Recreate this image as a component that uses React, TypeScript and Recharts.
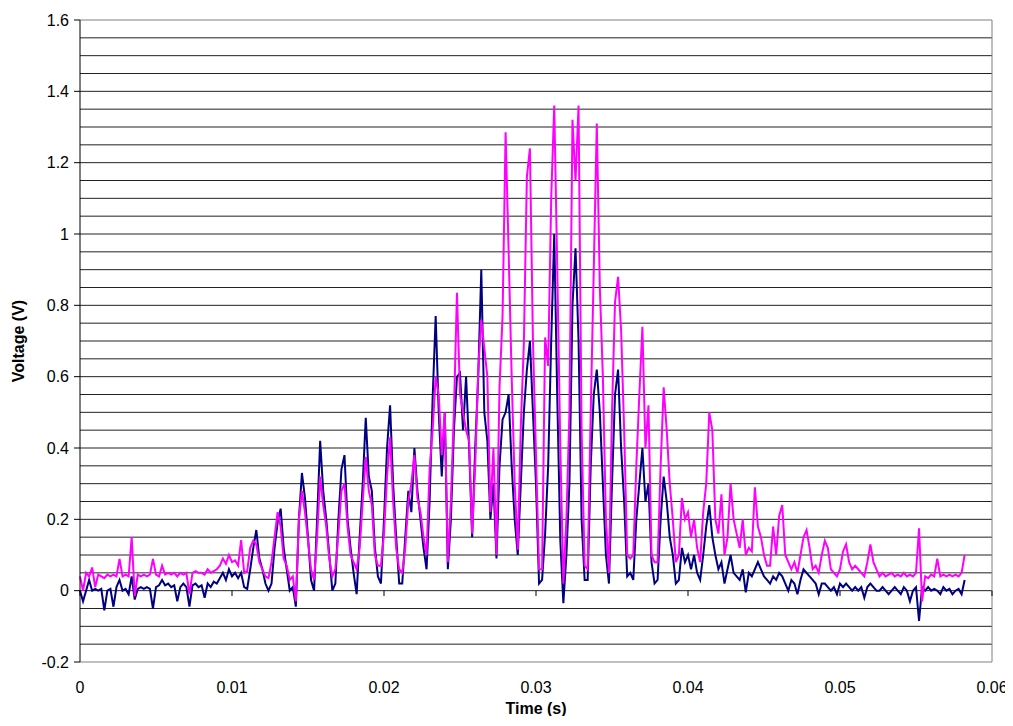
import React from "react";
import {
  LineChart,
  Line,
  XAxis,
  YAxis,
  ReferenceLine,
} from "recharts";

// one reading every 0.2 ms
const SAMPLE_STEP = 0.0002;

// navy trace (V)
const navy = [
  0.0, -0.03, 0.0, 0.03, 0.0, 0.005, 0.0, 0.005, -0.055, 0.0,
  0.005, -0.045, 0.01, 0.03, 0.0, 0.005, -0.01, 0.04, -0.025, 0.005,
  0.01, 0.005, 0.01, 0.005, -0.05, 0.01, 0.015, 0.03, 0.015, 0.02,
  0.01, 0.015, -0.03, 0.01, 0.02, 0.01, -0.045, 0.015, 0.02, 0.01,
  0.015, -0.02, 0.02, 0.01, 0.025, 0.02, 0.035, 0.05, 0.03, 0.06,
  0.04, 0.05, 0.035, 0.05, 0.01, 0.005, 0.06, 0.12, 0.17, 0.09,
  0.06, 0.02, 0.0, 0.02, 0.12, 0.19, 0.23, 0.12, 0.06, 0.0,
  0.01, -0.045, 0.2, 0.33, 0.26, 0.15, 0.03, 0.0, 0.2, 0.42,
  0.28, 0.2, 0.1, 0.0, 0.02, 0.2, 0.34, 0.38, 0.2, 0.12,
  0.05, -0.01, 0.15, 0.3, 0.485, 0.32, 0.28, 0.12, 0.04, 0.02,
  0.2, 0.4, 0.52, 0.3, 0.15, 0.02, 0.02, 0.15, 0.28, 0.22,
  0.4, 0.28, 0.2, 0.12, 0.06, 0.25, 0.54, 0.77, 0.5, 0.32,
  0.5, 0.06, 0.2, 0.45, 0.6, 0.61, 0.45, 0.6, 0.4, 0.15,
  0.4, 0.6, 0.9, 0.5, 0.42, 0.2, 0.3, 0.09, 0.35, 0.48,
  0.5, 0.55, 0.35, 0.2, 0.1, 0.3, 0.5, 0.62, 0.7, 0.5,
  0.3, 0.02, 0.03, 0.16, 0.35, 0.7, 1.0, 0.54, 0.14, -0.035,
  0.1, 0.3, 0.8, 0.96, 0.7, 0.2, 0.03, 0.03, 0.35, 0.55,
  0.62, 0.5, 0.3, 0.1, 0.02, 0.3, 0.55, 0.62, 0.4, 0.25,
  0.04, 0.05, 0.03, 0.2, 0.3, 0.4, 0.25, 0.3, 0.08, 0.02,
  0.03, 0.2, 0.32, 0.25, 0.15, 0.1, 0.02, 0.03, 0.12, 0.08,
  0.1, 0.06, 0.1, 0.05, 0.03, 0.1, 0.18, 0.24, 0.15, 0.1,
  0.06, 0.08, 0.02, 0.06, 0.1, 0.05, 0.04, 0.03, 0.06, -0.005,
  0.05, 0.04, 0.06, 0.08, 0.06, 0.04, 0.03, 0.02, 0.04, 0.03,
  0.05, 0.04, 0.02, 0.0, 0.03, 0.02, -0.01, 0.03, 0.06, 0.05,
  0.04, 0.03, 0.02, -0.01, 0.02, 0.02, 0.01, 0.0, 0.01, -0.01,
  0.02, 0.01, 0.02, 0.01, 0.0, 0.01, 0.0, 0.01, -0.02, 0.01,
  0.02, 0.01, 0.0, 0.0, 0.01, 0.0, -0.01, 0.0, 0.01, 0.0,
  -0.01, 0.01, 0.0, -0.03, 0.0, 0.01, -0.085, 0.01, 0.0, 0.01,
  0.0, 0.005, 0.0, -0.01, 0.01, 0.0, 0.005, -0.01, 0.0, 0.005,
  -0.01, 0.03,
];

// magenta trace (V)
const magenta = [
  0.04, 0.0, 0.05, 0.04, 0.065, 0.01, 0.045, 0.04, 0.035, 0.045,
  0.04, 0.045, 0.04, 0.089, 0.04, 0.045, 0.04, 0.15, -0.015, 0.045,
  0.04, 0.045, 0.04, 0.045, 0.089, 0.045, 0.04, 0.07, 0.045, 0.05,
  0.045, 0.05, 0.04, 0.05, 0.045, 0.05, -0.01, 0.05, 0.055, 0.05,
  0.05, 0.045, 0.06, 0.05, 0.055, 0.06, 0.07, 0.09, 0.075, 0.1,
  0.08, 0.085, 0.07, 0.142, 0.05, 0.055, 0.12, 0.14, 0.13, 0.08,
  0.06, 0.04, 0.035, 0.08, 0.15, 0.22, 0.18, 0.09, 0.07, 0.03,
  0.04, -0.03, 0.2, 0.28, 0.22, 0.14, 0.06, 0.03, 0.15, 0.32,
  0.24, 0.18, 0.09, 0.04, 0.06, 0.16, 0.28, 0.3, 0.18, 0.1,
  0.08, 0.06, 0.12, 0.25, 0.375, 0.28, 0.24, 0.1, 0.07, 0.07,
  0.16, 0.32, 0.43, 0.25, 0.12, 0.06, 0.05, 0.12, 0.25, 0.3,
  0.38, 0.26, 0.22, 0.15, 0.1, 0.34, 0.45, 0.6, 0.55, 0.38,
  0.5, 0.08, 0.25, 0.5, 0.835, 0.55, 0.5, 0.45, 0.42, 0.16,
  0.35, 0.62, 0.76, 0.68, 0.6, 0.22, 0.4, 0.1, 0.57, 0.77,
  1.285, 0.95, 0.6, 0.3, 0.115, 0.46, 0.69, 1.16, 1.24, 0.7,
  0.38, 0.06, 0.06, 0.71, 0.63, 1.1, 1.36, 0.9, 0.4, 0.02,
  0.2, 0.5, 1.32, 1.15, 1.36, 0.45, 0.07, 0.06, 0.5, 0.9,
  1.31, 0.85, 0.6, 0.2, 0.05, 0.5, 0.81, 0.88, 0.73, 0.45,
  0.1, 0.09, 0.1, 0.35, 0.55, 0.74, 0.4, 0.52, 0.1, 0.08,
  0.08, 0.35, 0.57, 0.45, 0.3, 0.2, 0.08, 0.1, 0.26, 0.2,
  0.22, 0.15, 0.2, 0.12, 0.08, 0.22, 0.3, 0.5, 0.45, 0.2,
  0.16, 0.27, 0.1, 0.15, 0.3, 0.2, 0.16, 0.12, 0.2, 0.1,
  0.12, 0.11, 0.29, 0.18, 0.15, 0.1, 0.07, 0.07, 0.18, 0.1,
  0.21, 0.24, 0.1, 0.08, 0.06, 0.08, 0.05, 0.1, 0.15, 0.17,
  0.12, 0.06, 0.07, 0.05, 0.1, 0.14, 0.12, 0.06, 0.05, 0.04,
  0.06, 0.11, 0.13, 0.08, 0.06, 0.07, 0.06, 0.05, 0.04, 0.08,
  0.13, 0.08, 0.06, 0.04, 0.05, 0.04, 0.045, 0.05, 0.04, 0.045,
  0.04, 0.05, 0.04, 0.045, 0.04, 0.05, 0.175, -0.03, 0.04, 0.035,
  0.045, 0.04, 0.09, 0.04, 0.045, 0.04, 0.045, 0.04, 0.045, 0.04,
  0.05, 0.1,
];

const xTicks = [0, 0.01, 0.02, 0.03, 0.04, 0.05, 0.06];
const yTicks = [-0.2, 0, 0.2, 0.4, 0.6, 0.8, 1, 1.2, 1.4, 1.6];
const gridValues = [
  -0.15, -0.1, -0.05, 0, 0.05, 0.1, 0.15, 0.2, 0.25, 0.3, 0.35, 0.4,
  0.45, 0.5, 0.55, 0.6, 0.65, 0.7, 0.75, 0.8, 0.85, 0.9, 0.95, 1, 1.05, 1.1,
  1.15, 1.2, 1.25, 1.3, 1.35, 1.4, 1.45, 1.5, 1.55,
];

const data = navy.map((v, i) => ({
  t: +(i * SAMPLE_STEP).toFixed(4),
  navy: v,
  magenta: magenta[i],
}));

const font = "'Liberation Sans', Arial, sans-serif";
const tickStyle = { fill: "#000", fontSize: 16, fontFamily: font };
const titleStyle = {
  fill: "#000",
  fontSize: 16,
  fontWeight: "bold",
  fontFamily: font,
  textAnchor: "middle",
};

const App = () => {
  return (
    <div style={{ width: 997, height: 708, overflow: "visible" }}>
      <LineChart
        width={1005}
        height={716}
        data={data}
        margin={{ top: 12, right: 21, bottom: 0, left: 0 }}
      >
        <XAxis
          dataKey="t"
          type="number"
          domain={[0, 0.06]}
          ticks={xTicks}
          tickFormatter={(v) => String(v)}
          axisLine={{ stroke: "#808080" }}
          tickLine={false}
          tickSize={0}
          tickMargin={20}
          height={62}
          tick={tickStyle}
          label={{
            value: "Time (s)",
            position: "insideBottom",
            offset: 10,
            style: titleStyle,
          }}
        />
        <YAxis
          type="number"
          domain={[-0.2, 1.6]}
          ticks={yTicks}
          width={72}
          axisLine={{ stroke: "#000" }}
          tickLine={{ stroke: "#000" }}
          tickSize={6}
          tickMargin={5}
          tick={tickStyle}
          label={{
            value: "Voltage (V)",
            angle: -90,
            position: "insideLeft",
            offset: 10,
            style: titleStyle,
          }}
        />
        {gridValues.map((g) => (
          <ReferenceLine key={"g" + g} y={g} stroke="#222" />
        ))}
        <ReferenceLine x={0.06} stroke="#808080" />
        <ReferenceLine y={1.6} stroke="#808080" />
        {xTicks.map((t) => (
          <ReferenceLine
            key={"t" + t}
            segment={[
              { x: t, y: 0 },
              { x: t, y: -0.015 },
            ]}
            stroke="#000"
          />
        ))}
        <Line
          type="linear"
          dataKey="navy"
          stroke="#000080"
          strokeWidth={2}
          dot={false}
          isAnimationActive={false}
        />
        <Line
          type="linear"
          dataKey="magenta"
          stroke="#FF00FF"
          strokeWidth={2}
          dot={false}
          isAnimationActive={false}
        />
      </LineChart>
    </div>
  );
};

export default App;
